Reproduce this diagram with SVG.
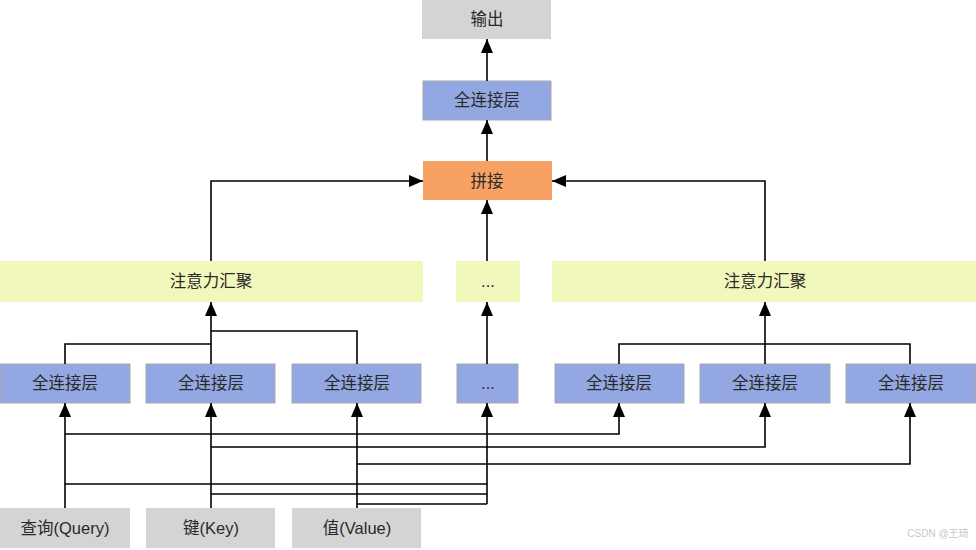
<svg xmlns="http://www.w3.org/2000/svg" width="976" height="550" viewBox="0 0 976 550">
<defs>
<marker id="arr" markerUnits="userSpaceOnUse" markerWidth="14" markerHeight="12" refX="14" refY="6" orient="auto">
<path d="M0,0 L14,6 L0,12 Z" fill="#000"/>
</marker>
<style>
.gray{fill:#d4d4d4}
.blue{fill:#93a8e2;stroke:#a8a8b0;stroke-width:1}
.orange{fill:#f8a164}
.yellow{fill:#f2f8bb}
text{font-family:"Liberation Sans","Noto Sans CJK SC",sans-serif;font-size:16.5px;fill:#2a2a2a;text-anchor:middle;dominant-baseline:central}
.c{fill:none;stroke:#000;stroke-width:1.6}
.a{marker-end:url(#arr)}
</style>
</defs>
<rect width="976" height="550" fill="#fff"/>
<g id="output"><rect class="gray" x="422" y="0" width="129" height="39"/><text x="487" y="19">输出</text></g>
<g id="fc-top"><rect class="blue" x="423" y="81" width="128" height="39"/><text x="487" y="100">全连接层</text></g>
<g id="concat"><rect class="orange" x="423" y="161" width="129" height="39"/><text x="487" y="181">拼接</text></g>
<g id="attn-left"><rect class="yellow" x="0" y="261" width="423" height="41"/><text x="211" y="281">注意力汇聚</text></g>
<g id="attn-mid"><rect class="yellow" x="456" y="261" width="64" height="41"/><text x="488" y="281">...</text></g>
<g id="attn-right"><rect class="yellow" x="552" y="261" width="424" height="41"/><text x="765" y="281">注意力汇聚</text></g>
<g id="fc1"><rect class="blue" x="0.5" y="364" width="129.5" height="39"/><text x="65" y="383">全连接层</text></g>
<g id="fc2"><rect class="blue" x="146" y="364" width="129" height="39"/><text x="211" y="383">全连接层</text></g>
<g id="fc3"><rect class="blue" x="292" y="364" width="129" height="39"/><text x="357" y="383">全连接层</text></g>
<g id="fc-mid"><rect class="blue" x="457" y="364" width="61" height="39"/><text x="488" y="383">...</text></g>
<g id="fc5"><rect class="blue" x="555" y="364" width="129" height="39"/><text x="619" y="383">全连接层</text></g>
<g id="fc6"><rect class="blue" x="700" y="364" width="130" height="39"/><text x="765" y="383">全连接层</text></g>
<g id="fc7"><rect class="blue" x="846" y="364" width="129.5" height="39"/><text x="911" y="383">全连接层</text></g>
<g id="query"><rect class="gray" x="0" y="508" width="130" height="40"/><text x="65" y="528">查询(Query)</text></g>
<g id="key"><rect class="gray" x="146" y="508" width="129" height="40"/><text x="211" y="528">键(Key)</text></g>
<g id="value"><rect class="gray" x="292" y="508" width="129" height="40"/><text x="357" y="528">值(Value)</text></g>
<g id="connectors">
<path class="c a" d="M487 81 V39"/>
<path class="c a" d="M487 161 V120"/>
<path class="c a" d="M487 261 V200"/>
<path class="c a" d="M211 261 V181 H423"/>
<path class="c a" d="M765 261 V181 H552"/>
<path class="c" d="M65 364 V344 H211"/>
<path class="c" d="M357 364 V331 H211"/>
<path class="c a" d="M211 364 V302"/>
<path class="c" d="M619 364 V344 H910 V364"/>
<path class="c a" d="M765 364 V302"/>
<path class="c a" d="M487 364 V302"/>
<path class="c a" d="M65 508 V403"/>
<path class="c a" d="M65 434 H619 V403"/>
<path class="c" d="M65 484 H487"/>
<path class="c a" d="M211 508 V403"/>
<path class="c a" d="M211 447 H765 V403"/>
<path class="c" d="M211 494 H487"/>
<path class="c a" d="M357 508 V403"/>
<path class="c a" d="M357 464 H910 V403"/>
<path class="c" d="M357 504 H487"/>
<path class="c a" d="M487 504 V403"/>
</g>
<text x="938" y="533" style="font-size:10px;fill:#c8c8c8">CSDN @王琦</text>
</svg>
